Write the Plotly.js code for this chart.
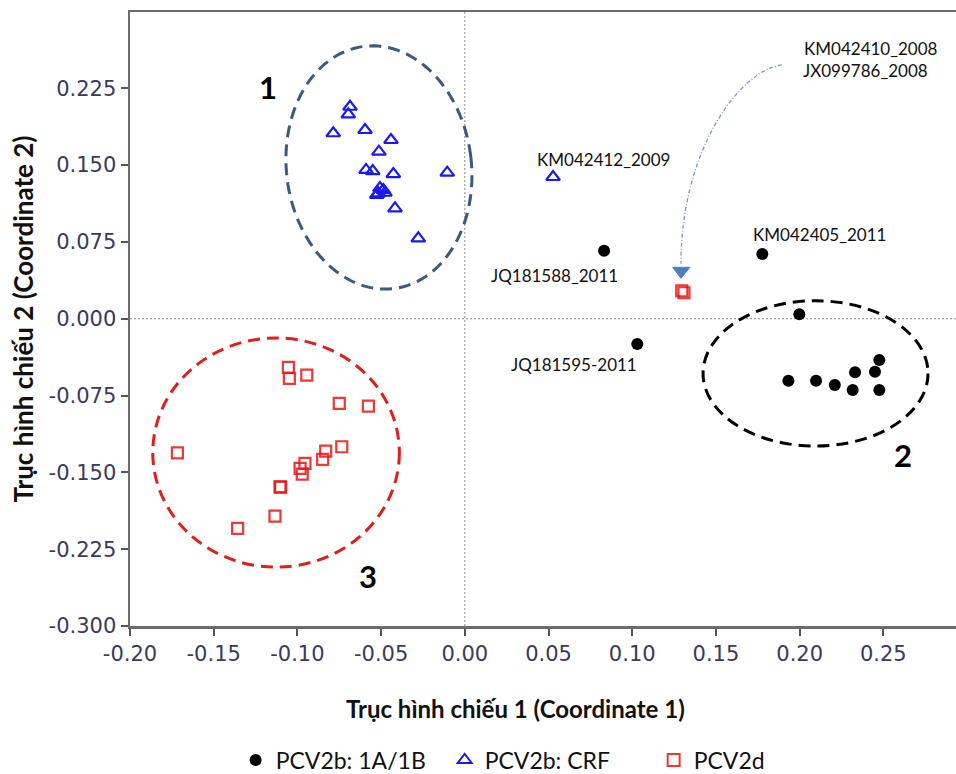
<!DOCTYPE html>
<html>
<head>
<meta charset="utf-8">
<script src="https://cdn.plot.ly/plotly-3.0.1.min.js"></script>
<style>
html,body{margin:0;padding:0;background:#fff;}
#chart{width:956px;height:774px;}
</style>
</head>
<body>
<div id="chart"></div>
<script>
// ---- Data ----
const seriesNames = ["PCV2b: 1A/1B", "PCV2b: CRF", "PCV2d"];

const blackX = [0.0832, 0.1777, 0.1030, 0.1998, 0.1933, 0.2098, 0.2210, 0.2317, 0.2331, 0.2450, 0.2476, 0.2476];
const blackY = [0.0664, 0.0632, -0.0247, 0.0043, -0.0605, -0.0605, -0.0647, -0.0696, -0.0523, -0.0518, -0.0403, -0.0696];

const blueX = [-0.0686, -0.0696, -0.0786, -0.0596, -0.0441, -0.0513, -0.0590, -0.0550, -0.0427, -0.0105, -0.0507, -0.0487, -0.0517, -0.0526, -0.0477, -0.0417, -0.0278, 0.0527];
const blueY = [0.2070, 0.1996, 0.1811, 0.1843, 0.1745, 0.1631, 0.1453, 0.1442, 0.1413, 0.1426, 0.1276, 0.1257, 0.1225, 0.1208, 0.1230, 0.1078, 0.0785, 0.1384];

const redX = [-0.1054, -0.1048, -0.0944, -0.0750, -0.0576, -0.1717, -0.0735, -0.0831, -0.0849, -0.0955, -0.0984, -0.0971, -0.1104, -0.1100, -0.1134, -0.1357, 0.1296, 0.1309];
const redY = [-0.0475, -0.0582, -0.0550, -0.0826, -0.0853, -0.1309, -0.1250, -0.1292, -0.1373, -0.1412, -0.1461, -0.1517, -0.1641, -0.1645, -0.1927, -0.2047, 0.0273, 0.0254];

const xTickVals = [-0.20, -0.15, -0.10, -0.05, 0.00, 0.05, 0.10, 0.15, 0.20, 0.25];
const xTickText = ["-0.20", "-0.15", "-0.10", "-0.05", "0.00", "0.05", "0.10", "0.15", "0.20", "0.25"];
const yTickVals = [-0.300, -0.225, -0.150, -0.075, 0.000, 0.075, 0.150, 0.225];
const yTickText = ["-0.300", "-0.225", "-0.150", "-0.075", "0.000", "0.075", "0.150", "0.225"];

const pointLabels = ["KM042412_2009", "JQ181588_2011", "KM042405_2011", "JQ181595-2011"];
const pointLabelX = [0.0826, 0.0533, 0.2117, 0.0652];
const pointLabelY = [0.155, 0.0427, 0.0827, -0.0442];
const arrowLabels = ["KM042410_2008", "JX099786_2008"];
const clusterNames = ["1", "2", "3"];

// ---- Layout helpers ----
const X_RANGE = [-0.2, 0.2934];
const Y_RANGE = [-0.3, 0.2995];
const SX = 1674, SY = 1024; // px per data unit

function ellipsePath(cx, cy, A, B, deg) {
  const th = deg * Math.PI / 180;
  const m = [-Math.sin(th), -Math.cos(th)];
  const n = [Math.cos(th), -Math.sin(th)];
  let d = "";
  const N = 120;
  for (let i = 0; i <= N; i++) {
    const t = 2 * Math.PI * i / N;
    const u = B * Math.cos(t), v = A * Math.sin(t);
    const px = u * n[0] + v * m[0];
    const py = u * n[1] + v * m[1];
    const x = cx + px / SX, y = cy - py / SY;
    d += (i === 0 ? "M" : "L") + x.toFixed(5) + "," + y.toFixed(5);
  }
  return d + "Z";
}

const traces = [
  {x: blackX, y: blackY, name: seriesNames[0], type: "scatter", mode: "markers",
   marker: {symbol: "circle", size: 12, color: "#000000"}},
  {x: blueX, y: blueY, name: seriesNames[1], type: "scatter", mode: "markers",
   marker: {symbol: "triangle-up-open", size: 12, color: "#1a1aee", line: {width: 2.2}}},
  {x: redX, y: redY, name: seriesNames[2], type: "scatter", mode: "markers",
   marker: {symbol: "square-open", size: 11, color: "rgba(235,20,20,0.85)", line: {width: 2.2}}}
];

const lblFont = {family: "Lato, 'Noto Sans', sans-serif", size: 17, color: "#111"};
const numFont = {family: "Lato, 'Noto Sans', sans-serif", size: 31, color: "#000", weight: 700};

const annotations = [];
for (let i = 0; i < pointLabels.length; i++) {
  annotations.push({x: pointLabelX[i], y: pointLabelY[i], xref: "x", yref: "y", text: pointLabels[i],
    showarrow: false, font: lblFont});
}
annotations.push({x: 0.2013, y: 0.2641, xref: "x", yref: "y", xanchor: "left", text: arrowLabels[0], showarrow: false, font: lblFont});
annotations.push({x: 0.2007, y: 0.2422, xref: "x", yref: "y", xanchor: "left", text: arrowLabels[1], showarrow: false, font: lblFont});
annotations.push({x: -0.1175, y: 0.2262, xref: "x", yref: "y", text: "<b>" + clusterNames[0] + "</b>", showarrow: false, font: numFont});
annotations.push({x: 0.2618, y: -0.1331, xref: "x", yref: "y", text: "<b>" + clusterNames[1] + "</b>", showarrow: false, font: numFont});
annotations.push({x: -0.0578, y: -0.2513, xref: "x", yref: "y", text: "<b>" + clusterNames[2] + "</b>", showarrow: false, font: numFont});
// x axis title placed as annotation (centred under the visible chart as in the reference)
annotations.push({x: (515 - 130) / 826, y: (626 - 708) / 614, xref: "paper", yref: "paper",
  xanchor: "center", yanchor: "middle", text: "<b>Trục hình chiếu 1 (Coordinate 1)</b>",
  showarrow: false, font: {family: "Lato, 'Noto Sans', sans-serif", size: 24, color: "#111"}});

const shapes = [
  // zero reference lines (dotted)
  {type: "line", xref: "x", yref: "paper", x0: 0, x1: 0, y0: 0, y1: 1, line: {color: "#8a8a8a", width: 1, dash: "2px,2px"}, layer: "below"},
  {type: "line", xref: "paper", yref: "y", x0: 0, x1: 1, y0: 0, y1: 0, line: {color: "#8a8a8a", width: 1, dash: "2px,2px"}, layer: "below"},
  // cluster 1 ellipse (tilted)
  {type: "path", xref: "x", yref: "y", path: ellipsePath(-0.0513, 0.1477, 122, 92.5, 7),
   line: {color: "#3b5a7c", width: 3, dash: "12px,7px"}},
  // cluster 2 ellipse
  {type: "circle", xref: "x", yref: "y", x0: 0.1423, x1: 0.2767, y0: -0.1243, y1: 0.0176,
   line: {color: "#000000", width: 3, dash: "12px,7px"}},
  // cluster 3 ellipse
  {type: "circle", xref: "x", yref: "y", x0: -0.1864, x1: -0.0391, y0: -0.2425, y1: -0.0188,
   line: {color: "#e01e1e", width: 3, dash: "12px,7px"}},
  // curved pointer
  {type: "path", xref: "x", yref: "y",
   path: "M0.1893,0.2478 C0.1644,0.2429 0.1291,0.1648 0.1291,0.0538",
   line: {color: "#7f9bb8", width: 1.3, dash: "4px,2px,1px,2px"}},
  // arrow head
  {type: "path", xref: "x", yref: "y",
   path: "M0.1242,0.0502 L0.1345,0.0502 L0.1291,0.0395 Z",
   fillcolor: "#4a7fc0", line: {color: "#4a7fc0", width: 1}}
];

const tickFont = {family: "'DejaVu Sans', Verdana, sans-serif", size: 21, color: "#3a3a5c"};

const layout = {
  width: 956, height: 774,
  margin: {l: 130, r: 0, t: 12, b: 148, pad: 0},
  paper_bgcolor: "#ffffff", plot_bgcolor: "#ffffff",
  showlegend: true,
  legend: {orientation: "h", xref: "container", yref: "container", x: 0.2465, y: 1 - 760/774,
    xanchor: "left", yanchor: "middle", entrywidth: 164, entrywidthmode: "pixels",
    font: {family: "Lato, 'Noto Sans', sans-serif", size: 23, color: "#111"}, itemsizing: "constant"},
  xaxis: {range: X_RANGE, tickvals: xTickVals, ticktext: xTickText, ticks: "outside", ticklen: 7, tickwidth: 2,
    tickcolor: "#555", showline: true, linecolor: "#6b6b6b", linewidth: 2.5, mirror: true,
    showgrid: false, zeroline: false, tickfont: tickFont},
  yaxis: {range: Y_RANGE, tickvals: yTickVals, ticktext: yTickText, ticks: "outside", ticklen: 7, tickwidth: 2,
    tickcolor: "#555", showline: true, linecolor: "#6b6b6b", linewidth: 2.5, mirror: false,
    showgrid: false, zeroline: false, tickfont: tickFont,
    title: {text: "<b>Trục hình chiếu 2 (Coordinate 2)</b>", standoff: 8,
      font: {family: "Lato, 'Noto Sans', sans-serif", size: 26, color: "#111"}}},
  annotations: annotations,
  shapes: shapes
};

Plotly.newPlot("chart", traces, layout, {displayModeBar: false, staticPlot: true});
</script>
</body>
</html>
